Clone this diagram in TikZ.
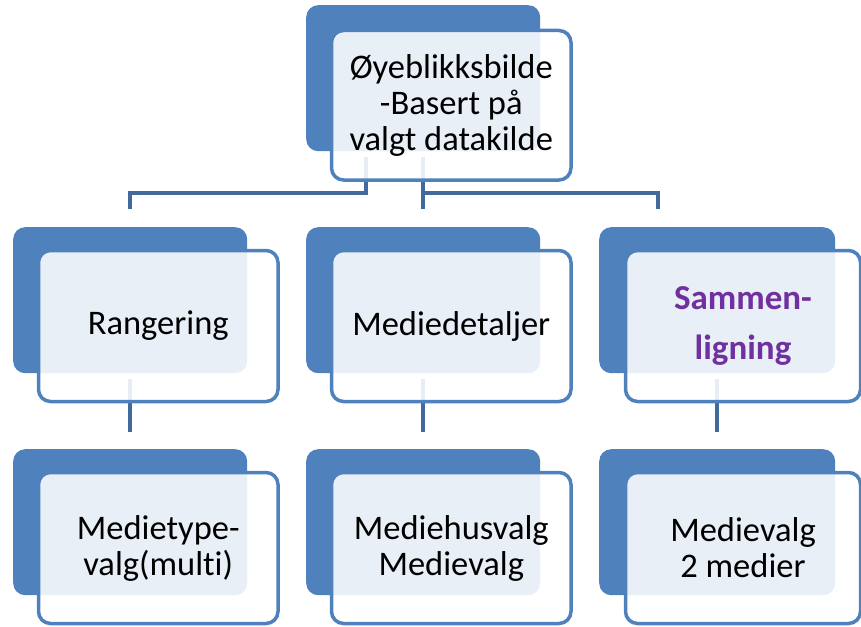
\documentclass[tikz,border=0pt]{standalone}
\usepackage{fontspec}
\setmainfont{Carlito}[Ligatures=NoCommon]
\usetikzlibrary{backgrounds}
\definecolor{boxblue}{RGB}{79,129,189}
\definecolor{lineblue}{RGB}{67,106,158}
\definecolor{purp}{RGB}{112,48,160}
\tikzset{
  backbox/.style={draw=none, fill=boxblue, rounded corners=12pt, minimum width=234pt, minimum height=146pt, anchor=north west, inner sep=0pt},
  frontbox/.style={draw=boxblue, line width=3.5pt, fill=white, fill opacity=0.88, text opacity=1, rounded corners=12pt, minimum width=239.5pt, minimum height=151pt, anchor=north west, inner sep=0pt, align=center, font=\fontsize{34.5}{36}\selectfont},
  purpletext/.style={text=purp, font=\fontsize{35}{50}\selectfont\bfseries},
  conn/.style={draw=lineblue, line width=3.5pt, line join=miter}
}
\begin{document}
\begin{tikzpicture}[x=1pt,y=-1pt]
\useasboundingbox (0,0) rectangle (861,626);
% top
\node[backbox] (tb) at (306,5) {};
\node[frontbox, minimum height=149.5pt] (tf) at (329.75,28.75) {Øyeblikksbilde\\-Basert på\\valgt datakilde};
% level 2
\node[backbox] (lb) at (13,227) {};
\node[frontbox] (lf) at (36.75,248.75) {Rangering};
\node[backbox] (mb) at (306,227) {};
\node[frontbox] (mf) at (329.75,248.75) {Mediedetaljer};
\node[backbox, minimum width=236pt] (rb) at (599,227) {};
\node[frontbox, purpletext, minimum width=235pt] (rf) at (623.75,248.75) {Sammen-\\ligning};
% level 3
\node[backbox] (lb3) at (13,449) {};
\node[frontbox] (lf3) at (36.75,470.75) {Medietype-\\valg(multi)};
\node[backbox] (mb3) at (306,449) {};
\node[frontbox] (mf3) at (329.75,470.75) {Mediehusvalg\\Medievalg};
\node[backbox, minimum width=236pt] (rb3) at (599,449) {};
\node[frontbox, minimum width=235pt] (rf3) at (623.75,470.75) {Medievalg\\2 medier};
% connectors
\begin{scope}[on background layer]
\draw[conn] ([xshift=-57pt,yshift=-6pt]tb.south) |- ([yshift=34pt]lb.north) -- ([yshift=18pt]lb.north);
\draw[conn] ([yshift=-6pt]tb.south) -- ([yshift=18pt]mb.north);
\draw[conn] ([yshift=-6pt]tb.south) |- ([xshift=-59pt,yshift=34pt]rb.north) -- ([xshift=-59pt,yshift=18pt]rb.north);
\draw[conn] ([yshift=-6pt]lb.south) -- ([yshift=17pt]lb3.north);
\draw[conn] ([yshift=-6pt]mb.south) -- ([yshift=17pt]mb3.north);
\draw[conn] ([yshift=-6pt]rb.south) -- ([yshift=17pt]rb3.north);
\end{scope}
\end{tikzpicture}
\end{document}
